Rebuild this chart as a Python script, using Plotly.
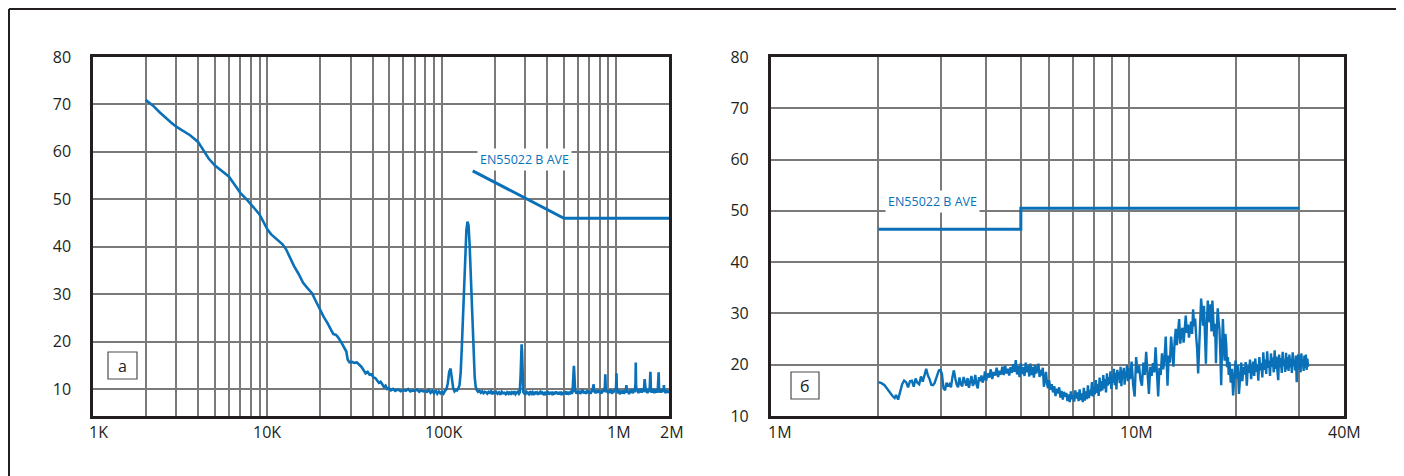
import numpy as np
import plotly.graph_objects as go

W, H = 1404, 476
OX, OY = 8, 8  # page offset of the figure inside the browser window

# plot-area pixel boxes (window coordinates)
A_L, A_R, B_L, B_R, P_T, P_B = 93, 669, 770.7, 1344, 57, 416


def px(x):
    return (x - OX) / W


def py(y):
    return 1 - (y - OY) / H


# ---------------- data: panel a (conducted noise, 1 kHz .. 2 MHz) ----------------
freq_a_khz = [
    2.0, 2.2, 2.4, 2.6, 2.8, 3.0, 3.3, 3.6, 4.0, 4.3,
    4.6, 5.0, 5.5, 6.0, 6.5, 7.0, 7.5, 8.0, 8.5, 9.0,
    9.5, 10.0, 10.5, 11.0, 11.6, 12.2, 12.8, 13.5, 14.2, 15.0,
    16.0, 17.0, 18.0, 19.0, 20.0, 21.0, 22.0, 23.0, 23.8, 24.7,
    25.5, 26.5, 27.5, 28.3, 28.8, 29.5, 30.5, 31.5, 32.5, 33.5,
    34.5, 35.5, 36.5, 37.5, 38.5, 39.5, 40.5, 41.5, 42.5, 43.5,
    44.5, 45.5, 46.5, 47.5, 48.5, 49.5, 51, 52.5, 54, 56,
    58, 60, 62, 64, 66, 68, 70, 72, 74, 76,
    78, 80, 82, 84, 86, 88, 90, 92, 94, 96,
    98, 100, 102, 104, 106, 108, 110, 112, 114, 116,
    118, 120, 122, 124, 126, 128, 130, 132, 134, 136,
    138, 140, 142, 144, 146, 148, 150, 152, 154, 156,
    158, 161, 164, 167, 170, 173, 176, 179, 182, 185,
    188, 191, 194, 197, 200, 204, 208, 212, 216, 220,
    224, 228, 232, 236, 240, 244, 248, 252, 256, 260,
    264, 268, 272, 276, 279, 282, 284, 286, 288, 290,
    292, 296, 300, 305, 310, 315, 320, 325, 330, 335,
    340, 345, 350, 355, 360, 365, 370, 375, 380, 385,
    390, 395, 400, 405, 410, 415, 420, 425, 430, 435,
    440, 445, 450, 455, 460, 465, 470, 475, 480, 485,
    490, 495, 500, 505, 510, 515, 520, 525, 530, 535,
    540, 545, 550, 555, 560, 564, 567, 570, 573, 576,
    580, 585, 590, 595, 600, 610, 620, 630, 640, 650,
    660, 670, 680, 690, 700, 710, 720, 730, 740, 745,
    750, 760, 770, 780, 790, 800, 810, 820, 830, 840,
    850, 858, 863, 868, 875, 885, 895, 905, 915, 925,
    935, 945, 955, 965, 975, 985, 995, 1000, 1005, 1015,
    1030, 1045, 1060, 1075, 1090, 1105, 1120, 1135, 1140, 1150,
    1165, 1180, 1195, 1210, 1225, 1240, 1255, 1270, 1285, 1290,
    1295, 1305, 1320, 1335, 1350, 1365, 1380, 1395, 1410, 1425,
    1440, 1450, 1460, 1475, 1490, 1505, 1520, 1535, 1550, 1565,
    1575, 1590, 1605, 1620, 1635, 1650, 1665, 1680, 1695, 1710,
    1725, 1745, 1755, 1770, 1785, 1800, 1815, 1830, 1845, 1860,
    1870, 1880, 1895, 1910, 1925, 1940, 1955, 1970, 1985, 2000,
]
level_a = [
    71.0, 69.8, 68.4, 67.2, 66.2, 65.3, 64.4, 63.5, 62.1, 60.4,
    58.6, 57.1, 55.9, 54.8, 53.0, 51.3, 50.2, 49.1, 47.9, 46.8,
    45.0, 43.6, 42.6, 41.9, 41.2, 40.5, 39.4, 37.6, 35.9, 34.4,
    32.4, 31.2, 30.2, 28.4, 26.7, 25.2, 24.0, 22.6, 21.6, 21.4,
    20.8, 19.8, 18.8, 17.9, 16.2, 15.6, 15.7, 15.5, 15.6, 15.2,
    14.7, 14.0, 13.3, 13.6, 13.0, 13.1, 12.4, 12.3, 11.9, 11.3,
    11.5, 10.9, 10.4, 10.7, 10.0, 10.2, 9.7, 10.0, 9.6, 9.9,
    9.5, 9.8, 9.6, 10.0, 9.5, 9.7, 9.6, 9.9, 9.4, 9.7,
    9.5, 9.6, 9.4, 9.8, 9.2, 9.6, 9.1, 9.7, 9.0, 9.5,
    9.1, 9.4, 9.0, 9.6, 9.9, 11.2, 13.6, 14.3, 12.0, 10.1,
    9.5, 9.8, 9.7, 10.1, 10.8, 13.5, 19.0, 26.0, 33.0, 39.5,
    43.5, 45.3, 44.5, 40.5, 34.0, 27.0, 21.0, 16.0, 12.5, 10.5,
    9.8, 9.4, 9.6, 9.2, 9.5, 9.1, 9.4, 9.3, 9.0, 9.4,
    9.2, 9.5, 8.9, 9.3, 9.1, 9.4, 9.0, 9.3, 8.8, 9.4,
    9.1, 9.2, 8.9, 9.3, 9.0, 9.4, 8.8, 9.3, 9.1, 9.5,
    8.9, 9.2, 9.4, 9.0, 9.3, 12.5, 18.0, 19.4, 17.5, 12.0,
    9.4, 9.1, 8.8, 9.4, 9.2, 8.9, 9.5, 9.0, 9.3, 8.7,
    9.4, 9.1, 9.3, 8.8, 9.2, 9.4, 8.9, 9.3, 9.1, 8.7,
    9.4, 9.0, 9.2, 9.5, 8.8, 9.3, 9.0, 9.4, 8.7, 9.2,
    9.1, 8.9, 9.5, 9.0, 9.3, 8.8, 9.4, 9.1, 9.2, 8.7,
    9.3, 9.0, 9.4, 8.9, 9.2, 9.5, 8.8, 9.3, 9.1, 9.4,
    8.9, 9.2, 9.6, 9.0, 9.4, 11.5, 14.2, 14.9, 13.5, 10.2,
    9.3, 9.7, 9.0, 9.4, 9.1, 9.6, 9.0, 9.4, 9.8, 9.1,
    9.5, 9.0, 9.7, 9.2, 9.6, 9.0, 9.5, 9.9, 11.0, 9.3,
    9.5, 9.1, 9.7, 9.2, 9.8, 9.3, 9.6, 9.0, 9.8, 9.4,
    9.7, 10.5, 13.1, 10.0, 9.3, 9.8, 9.1, 9.6, 9.2, 9.9,
    9.4, 9.0, 9.7, 9.3, 9.8, 9.5, 10.6, 13.3, 10.0, 9.4,
    9.6, 8.9, 9.4, 9.1, 9.7, 9.0, 9.5, 10.0, 10.8, 9.2,
    9.6, 8.9, 9.8, 9.2, 10.0, 9.1, 9.7, 9.3, 11.0, 15.6,
    10.8, 9.5, 10.0, 9.1, 9.9, 9.3, 10.1, 9.2, 9.8, 9.4,
    10.3, 12.1, 9.7, 9.3, 10.0, 9.1, 9.7, 9.4, 10.1, 13.6,
    9.9, 9.2, 9.8, 9.5, 10.0, 9.1, 9.7, 9.4, 9.9, 9.2,
    9.8, 13.5, 9.7, 9.3, 10.0, 9.2, 9.8, 9.4, 9.9, 9.5,
    10.8, 9.3, 9.7, 9.1, 9.6, 9.3, 9.8, 9.2, 9.6, 9.3,
]
limit_a_khz = [150, 500, 2000]
limit_a_level = [56, 46, 46]

# ---------------- data: panel b (1 MHz .. 40 MHz) ----------------
freq_b_mhz = [
    2.00, 2.04, 2.08, 2.12, 2.16, 2.19, 2.22, 2.24, 2.27, 2.30,
    2.33, 2.36, 2.39, 2.42, 2.45, 2.48, 2.51, 2.54, 2.57, 2.60,
    2.63, 2.66, 2.69, 2.72, 2.75, 2.78, 2.81, 2.84, 2.87, 2.91,
    2.95, 2.98, 3.01, 3.04, 3.07, 3.10, 3.13, 3.16, 3.19, 3.22,
    3.25, 3.28, 3.31, 3.34, 3.37, 3.40, 3.43, 3.46, 3.49, 3.52,
    3.55, 3.58, 3.61, 3.64, 3.67, 3.70, 3.73, 3.76, 3.79, 3.82,
    3.85, 3.88, 3.91, 3.94, 3.97, 4.00, 4.04, 4.08, 4.12, 4.16,
    4.20, 4.24, 4.28, 4.32, 4.36, 4.40, 4.44, 4.48, 4.52, 4.56,
    4.60, 4.64, 4.68, 4.72, 4.76, 4.80, 4.84, 4.88, 4.92, 4.96,
    5.00, 5.04, 5.08, 5.12, 5.16, 5.20, 5.24, 5.28, 5.32, 5.36,
    5.40, 5.44, 5.48, 5.52, 5.56, 5.60, 5.64, 5.68, 5.72, 5.76,
    5.80, 5.84, 5.88, 5.92, 5.96, 6.00, 6.05, 6.10, 6.15, 6.20,
    6.25, 6.30, 6.35, 6.40, 6.45, 6.50, 6.55, 6.60, 6.65, 6.70,
    6.75, 6.80, 6.85, 6.90, 6.95, 7.00, 7.05, 7.10, 7.15, 7.20,
    7.25, 7.30, 7.35, 7.40, 7.45, 7.50, 7.55, 7.60, 7.65, 7.70,
    7.75, 7.80, 7.85, 7.90, 7.95, 8.00, 8.05, 8.10, 8.15, 8.20,
    8.25, 8.30, 8.35, 8.40, 8.45, 8.50, 8.55, 8.60, 8.65, 8.70,
    8.75, 8.80, 8.85, 8.90, 8.95, 9.00, 9.05, 9.10, 9.15, 9.20,
    9.25, 9.30, 9.35, 9.40, 9.45, 9.50, 9.55, 9.60, 9.65, 9.70,
    9.75, 9.80, 9.85, 9.90, 9.95, 10.00, 10.10, 10.20, 10.30, 10.40,
    10.50, 10.60, 10.70, 10.80, 10.90, 11.00, 11.10, 11.20, 11.30, 11.40,
    11.50, 11.60, 11.70, 11.80, 11.90, 12.00, 12.10, 12.20, 12.30, 12.40,
    12.50, 12.60, 12.70, 12.80, 12.85, 12.95, 13.05, 13.15, 13.25, 13.35,
    13.45, 13.55, 13.65, 13.75, 13.85, 13.95, 14.05, 14.15, 14.25, 14.35,
    14.45, 14.55, 14.65, 14.75, 14.85, 14.95, 15.05, 15.15, 15.25, 15.35,
    15.45, 15.55, 15.65, 15.75, 15.85, 15.95, 16.05, 16.15, 16.25, 16.35,
    16.45, 16.55, 16.65, 16.75, 16.85, 16.95, 17.05, 17.15, 17.25, 17.35,
    17.45, 17.55, 17.65, 17.75, 17.85, 17.95, 18.05, 18.15, 18.25, 18.35,
    18.45, 18.55, 18.65, 18.75, 18.85, 18.95, 19.05, 19.15, 19.30, 19.45,
    19.60, 19.75, 19.90, 20.05, 20.20, 20.35, 20.50, 20.65, 20.80, 20.95,
    21.10, 21.25, 21.40, 21.55, 21.70, 21.85, 22.00, 22.15, 22.30, 22.45,
    22.60, 22.75, 22.90, 23.05, 23.20, 23.35, 23.50, 23.65, 23.80, 23.95,
    24.10, 24.25, 24.40, 24.55, 24.70, 24.85, 25.00, 25.15, 25.30, 25.45,
    25.60, 25.75, 25.90, 26.05, 26.20, 26.35, 26.50, 26.65, 26.80, 26.95,
    27.10, 27.25, 27.40, 27.55, 27.70, 27.85, 28.00, 28.15, 28.30, 28.45,
    28.60, 28.75, 28.90, 29.05, 29.20, 29.35, 29.50, 29.65, 29.80, 29.95,
    30.10, 30.25, 30.40, 30.55, 30.70, 30.85, 31.00, 31.15, 31.30, 31.45,
    31.60, 31.75,
]
level_b = [
    16.6, 16.4, 16.0, 15.2, 14.3, 13.9, 13.5, 14.1, 13.2, 14.6,
    16.2, 16.9, 16.6, 15.6, 16.8, 16.9, 15.7, 17.3, 16.5, 16.2,
    17.7, 16.7, 18.2, 19.2, 17.9, 17.2, 16.1, 16.0, 16.4, 17.8,
    18.9, 19.0, 18.2, 15.4, 15.0, 16.5, 15.8, 16.2, 15.6, 17.6,
    18.9, 17.3, 16.1, 15.6, 17.5, 16.2, 15.8, 17.6, 16.8, 15.9,
    17.4, 15.5, 16.7, 17.8, 15.9, 16.4, 18.0, 16.1, 15.4, 17.6,
    16.8, 17.9, 16.5, 17.2, 18.7, 16.9, 18.3, 17.5, 19.1, 17.2,
    18.6, 17.9, 19.4, 17.6, 18.8, 18.1, 19.6, 18.0, 19.8, 18.3,
    19.2, 17.9, 19.5, 18.4, 20.1, 18.6, 20.9, 18.1, 19.7, 17.6,
    20.3, 18.2, 19.5, 17.8, 20.4, 18.5, 19.8, 17.7, 20.2, 18.0,
    19.6, 17.5, 19.9, 18.3, 19.2, 20.2, 17.6, 19.0, 17.9, 19.4,
    15.7, 16.9, 18.6, 16.2, 15.4, 17.0, 15.1, 16.2, 14.6, 15.8,
    13.9, 15.3, 14.4, 15.6, 13.6, 14.9, 13.2, 14.7, 13.8, 14.5,
    12.9, 14.2, 12.7, 14.8, 13.3, 14.1, 12.8, 15.0, 13.4, 14.6,
    12.9, 15.2, 13.1, 14.4, 12.7, 15.5, 13.0, 14.8, 13.3, 16.0,
    13.5, 15.1, 14.0, 16.6, 13.8, 15.7, 14.2, 17.0, 14.5, 16.2,
    13.9, 17.5, 14.8, 16.8, 15.0, 18.0, 15.4, 17.2, 14.6, 18.3,
    15.9, 17.6, 16.2, 18.7, 15.3, 17.9, 16.5, 19.2, 16.0, 18.4,
    15.2, 19.0, 17.1, 18.6, 16.4, 19.6, 15.8, 18.9, 17.3, 19.4,
    16.1, 18.5, 17.5, 20.0, 16.8, 19.3, 17.2, 20.6, 16.0, 13.8,
    21.5, 18.4, 19.8, 17.0, 15.9, 20.4, 18.0, 22.5, 16.9, 14.3,
    19.6, 17.8, 20.3, 18.5, 23.4, 17.5, 13.8, 19.4, 18.0, 22.2,
    19.1, 21.0, 25.5, 19.2, 15.9, 21.8, 20.4, 25.5, 22.0, 19.6,
    24.6, 27.0, 23.8, 26.0, 28.9, 24.1, 26.5, 27.2, 24.3, 26.8,
    29.6, 26.2, 27.8, 25.3, 27.0, 28.4, 26.0, 30.8, 27.5, 29.0,
    25.5, 23.0, 18.3, 22.5, 28.0, 32.9, 30.5, 27.6, 31.5, 24.0,
    20.2, 27.8, 32.5, 29.0, 28.3, 31.8, 26.5, 32.5, 29.4, 25.5,
    28.0, 20.3, 27.2, 31.0, 28.5, 26.9, 22.0, 16.0, 23.5, 28.9,
    24.5, 20.8, 26.0, 24.0, 19.5, 21.5, 18.0, 20.5, 16.5, 19.2,
    14.0, 18.6, 20.8, 17.3, 19.9, 14.3, 18.5, 20.4, 16.8, 19.6,
    18.1, 20.5, 15.9, 19.8, 18.4, 21.0, 17.2, 19.3, 20.6, 17.8,
    21.2, 18.6, 20.0, 16.9, 21.5, 18.9, 20.3, 17.5, 22.4, 19.0,
    21.0, 18.2, 22.6, 19.4, 20.8, 17.8, 22.2, 19.6, 21.4, 18.5,
    22.8, 19.2, 21.6, 18.9, 17.0, 22.0, 19.5, 21.3, 18.4, 22.5,
    19.8, 21.0, 18.6, 22.3, 19.1, 21.5, 18.8, 22.0, 19.5, 21.2,
    18.4, 22.4, 19.8, 21.0, 18.9, 21.8, 16.6, 20.5, 22.0, 19.2,
    21.6, 18.5, 22.2, 19.7, 21.0, 18.8, 21.8, 19.4, 22.0, 19.0,
    21.2, 19.6,
]
limit_b_mhz = [2, 5, 5, 30]
limit_b_level = [46.4, 46.4, 50.5, 50.5]

# ---------------- axis labels ----------------
yticks_a = [10, 20, 30, 40, 50, 60, 70, 80]
yticks_b = [10, 20, 30, 40, 50, 60, 70, 80]
xlabel_vals_a = [1e3, 1e4, 1e5, 1e6, 2e6]
xlabel_text_a = ["1K", "10K", "100K", "1M", "2M"]
xlabel_vals_b = [1e6, 1e7, 4e7]
xlabel_text_b = ["1M", "10M", "40M"]
limit_label = "EN55022 B AVE"
panel_a_label = "a"
panel_b_label = "б"

assert len(freq_a_khz) == len(level_a)
assert len(freq_b_mhz) == len(level_b)

# ---------------- style ----------------
BLUE = "#0a71b9"
GRID = "#7a7a7a"
AX = "#231f20"
TXT = "#231f20"
FONT = "Open Sans"

grid_a = [m * 10 ** e for e in range(3, 6) for m in range(1, 10)] + [1e6, 2e6]
grid_b = [m * 10 ** 6 for m in range(2, 10)] + [1e7, 2e7, 3e7]

fa = [f * 1e3 for f in freq_a_khz]
fla = [f * 1e3 for f in limit_a_khz]
fb = [f * 1e6 for f in freq_b_mhz]
flb = [f * 1e6 for f in limit_b_mhz]

fig = go.Figure()
fig.add_trace(go.Scatter(x=fa, y=level_a, mode="lines", xaxis="x", yaxis="y",
                         line=dict(color=BLUE, width=2.6), hoverinfo="skip"))
fig.add_trace(go.Scatter(x=fla, y=limit_a_level, mode="lines", xaxis="x", yaxis="y",
                         line=dict(color=BLUE, width=3), hoverinfo="skip"))
fig.add_trace(go.Scatter(x=fb, y=level_b, mode="lines", xaxis="x2", yaxis="y2",
                         line=dict(color=BLUE, width=2.4), hoverinfo="skip"))
fig.add_trace(go.Scatter(x=flb, y=limit_b_level, mode="lines", xaxis="x2", yaxis="y2",
                         line=dict(color=BLUE, width=3), hoverinfo="skip"))

common_x = dict(type="log", showticklabels=False, showgrid=True, gridcolor=GRID,
                gridwidth=1.5, showline=True, mirror=True, linecolor=AX, linewidth=2.5,
                ticks="", zeroline=False, fixedrange=True, automargin=False)
common_y = dict(showgrid=True, gridcolor=GRID, gridwidth=1.5, showline=True, mirror=True,
                linecolor=AX, linewidth=2.5, ticks="outside", ticklen=16,
                tickcolor="rgba(0,0,0,0)", zeroline=False, fixedrange=True, automargin=False,
                tickfont=dict(family=FONT, size=16, color=TXT))

fig.update_layout(
    width=W, height=H, margin=dict(l=0, r=0, t=0, b=0),
    paper_bgcolor="white", plot_bgcolor="white", showlegend=False,
    xaxis=dict(common_x, range=[3, np.log10(2e6)], domain=[px(A_L), px(A_R)],
               tickvals=grid_a, anchor="y"),
    yaxis=dict(common_y, range=[4.3, 80], domain=[py(P_B), py(P_T)],
               tickvals=yticks_a, ticktext=[str(v) for v in yticks_a], anchor="x"),
    xaxis2=dict(common_x, range=[6, np.log10(4e7)], domain=[px(B_L), px(B_R)],
                tickvals=grid_b, anchor="y2"),
    yaxis2=dict(common_y, range=[10, 80], domain=[py(P_B), py(P_T)],
                tickvals=yticks_b, ticktext=[str(v) for v in yticks_b], anchor="x2"),
)

annotations = []
shifts_a = [5, 0, 2, 3, 3]
for v, t, s in zip(xlabel_vals_a, xlabel_text_a, shifts_a):
    annotations.append(dict(x=np.log10(v), y=py(432), xref="x", yref="paper", text=t,
                            showarrow=False, xshift=s, xanchor="center", yanchor="middle",
                            font=dict(family=FONT, size=16, color=TXT)))
shifts_b = [9, 8, 0]
for v, t, s in zip(xlabel_vals_b, xlabel_text_b, shifts_b):
    annotations.append(dict(x=np.log10(v), y=py(432), xref="x2", yref="paper", text=t,
                            showarrow=False, xshift=s, xanchor="center", yanchor="middle",
                            font=dict(family=FONT, size=16, color=TXT)))
# limit labels with a white box that hides the grid behind the text
for cx, cy in [(524, 159), (932, 201.5)]:
    annotations.append(dict(x=px(cx), y=py(cy), xref="paper", yref="paper", text=limit_label,
                            showarrow=False, xanchor="center", yanchor="middle",
                            bgcolor="white", borderpad=2,
                            font=dict(family=FONT, size=12.5, color=BLUE)))
annotations.append(dict(x=px(122.5), y=py(365.5), xref="paper", yref="paper", text=panel_a_label,
                        showarrow=False, xanchor="center", yanchor="middle",
                        font=dict(family=FONT, size=16, color=TXT)))
annotations.append(dict(x=px(805), y=py(385.5), xref="paper", yref="paper", text=panel_b_label,
                        showarrow=False, xanchor="center", yanchor="middle",
                        font=dict(family=FONT, size=16, color=TXT)))
fig.update_layout(annotations=annotations)

shapes = [
    # outer frame (top and left)
    dict(type="line", xref="paper", yref="paper", x0=px(9), x1=1, y0=py(9), y1=py(9),
         line=dict(color=AX, width=2)),
    dict(type="line", xref="paper", yref="paper", x0=px(9), x1=px(9), y0=py(9), y1=0,
         line=dict(color=AX, width=2)),
    # panel letter boxes
    dict(type="rect", xref="paper", yref="paper", x0=px(108), x1=px(137), y0=py(379), y1=py(352),
         line=dict(color="#4d4d4d", width=1.2)),
    dict(type="rect", xref="paper", yref="paper", x0=px(791), x1=px(819), y0=py(399), y1=py(372),
         line=dict(color="#4d4d4d", width=1.2)),
]
fig.update_layout(shapes=shapes)

fig.write_html("out.html")
